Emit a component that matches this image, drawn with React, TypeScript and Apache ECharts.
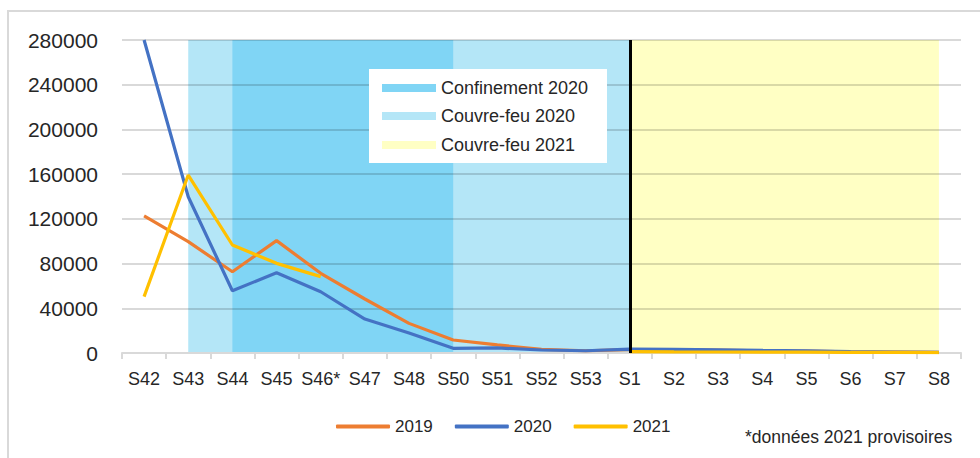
import { useEffect, useRef } from 'react';
import * as echarts from 'echarts';

const categories = ['S42', 'S43', 'S44', 'S45', 'S46*', 'S47', 'S48', 'S50', 'S51', 'S52', 'S53', 'S1', 'S2', 'S3', 'S4', 'S5', 'S6', 'S7', 'S8'];
const values2019 = [122600, 99600, 72700, 100500, 71300, 48300, 26500, 11600, 7200, 3300, 2000, 3000, 3000, 2500, 2000, 1800, 1000, 800, 500];
const values2020 = [280000, 139800, 55700, 71800, 54800, 30400, 17900, 4200, 4500, 2700, 2000, 3500, 3300, 2800, 2300, 2000, 1200, 900, 600];
const values2021: (number | null)[] = [50400, 159200, 96600, 80200, 68300, null, null, null, null, null, null, 1200, 1000, 900, 800, 700, 600, 500, 400];
const yTicks = { min: 0, max: 280000, interval: 40000 };

const bandCouvreFeu2020 = ['S43', 'S1'];
const bandConfinement2020 = ['S44', 'S50'];
const bandCouvreFeu2021 = ['S1', 'S8'];
const markerWeek = 'S1';

const bandLegend = ['Confinement 2020', 'Couvre-feu 2020', 'Couvre-feu 2021'];
const note = '*données 2021 provisoires';

const C_LIGHT = '#B4E6F7';
const C_DARK = '#80D5F5';
const C_YELLOW = '#FFFFC4';
const REG = '"Liberation Sans", Arial, sans-serif';

export default function App() {
  const ref = useRef<HTMLDivElement>(null);
  useEffect(() => {
    if (!ref.current) return;
    const chart = echarts.init(ref.current, undefined, { renderer: 'svg' });
    const swatchColors = [C_DARK, C_LIGHT, C_YELLOW];
    const LX = 369;
    const LY = 69;
    const legendEls: any[] = [
      { type: 'rect', z: 20, shape: { x: LX, y: LY, width: 238, height: 94 }, style: { fill: '#fff' } },
    ];
    bandLegend.forEach((name, i) => {
      const cy = LY + [19, 47, 76][i];
      legendEls.push({ type: 'rect', z: 21, shape: { x: LX + 13, y: cy - 4, width: 54, height: 8 }, style: { fill: swatchColors[i] } });
      legendEls.push({
        type: 'text',
        z: 21,
        x: LX + 72,
        y: cy,
        style: { text: name, verticalAlign: 'middle', fontFamily: REG, fontSize: 18, fill: '#262626' },
      });
    });
    chart.setOption({
      animation: false,
      backgroundColor: '#fff',
      grid: { left: 122, right: 19, top: 40, bottom: 105, containLabel: false },
      legend: {
        data: ['2019', '2020', '2021'],
        left: 336,
        top: 418,
        padding: 0,
        icon: 'roundRect',
        itemWidth: 54,
        itemHeight: 4,
        itemGap: 22,
        textStyle: { fontFamily: REG, fontSize: 17, color: '#262626' },
      },
      xAxis: {
        type: 'category',
        data: categories,
        boundaryGap: true,
        z: 2,
        axisLine: { show: true, lineStyle: { color: '#D9D9D9', width: 2 } },
        axisTick: { show: true, length: 6, lineStyle: { color: '#D9D9D9', width: 2 } },
        axisLabel: { fontFamily: REG, fontSize: 18, color: '#262626', margin: 17, interval: 0 },
        splitLine: { show: false },
      },
      yAxis: {
        type: 'value',
        min: yTicks.min,
        max: yTicks.max,
        interval: yTicks.interval,
        z: 2,
        axisLine: { show: false },
        axisTick: { show: false },
        axisLabel: { fontFamily: REG, fontSize: 21, color: '#262626', margin: 24, formatter: (v: number) => String(v) },
        splitLine: { show: true, lineStyle: { color: 'rgba(0,0,0,0.15)', width: 2 } },
      },
      series: [
        {
          name: '2019',
          type: 'line',
          data: values2019,
          z: 3,
          showSymbol: false,
          symbol: 'none',
          lineStyle: { color: '#ED7D31', width: 3.2 },
          itemStyle: { color: '#ED7D31' },
          markArea: {
            silent: true,
            data: [
              [{ xAxis: bandCouvreFeu2020[0], itemStyle: { color: C_LIGHT } }, { xAxis: bandCouvreFeu2020[1] }],
              [{ xAxis: bandConfinement2020[0], itemStyle: { color: C_DARK } }, { xAxis: bandConfinement2020[1] }],
              [{ xAxis: bandCouvreFeu2021[0], itemStyle: { color: C_YELLOW } }, { xAxis: bandCouvreFeu2021[1] }],
            ],
          },
          markLine: {
            silent: true,
            symbol: ['none', 'none'],
            label: { show: false },
            lineStyle: { color: '#000', width: 3, type: 'solid' },
            data: [{ xAxis: markerWeek }],
          },
        },
        {
          name: '2020',
          type: 'line',
          data: values2020,
          z: 3,
          showSymbol: false,
          symbol: 'none',
          lineStyle: { color: '#4472C4', width: 3.2 },
          itemStyle: { color: '#4472C4' },
        },
        {
          name: '2021',
          type: 'line',
          data: values2021,
          z: 3,
          showSymbol: false,
          symbol: 'none',
          connectNulls: false,
          lineStyle: { color: '#FFC000', width: 3.2 },
          itemStyle: { color: '#FFC000' },
        },
      ],
      graphic: [
        { type: 'rect', z: 20, shape: { x: 8, y: 11, width: 1000, height: 500 }, style: { fill: 'none', stroke: '#D9D9D9', lineWidth: 2 } },
        ...legendEls,
        {
          type: 'text',
          z: 20,
          x: 745,
          y: 437,
          style: { text: note, verticalAlign: 'middle', fontFamily: REG, fontSize: 17.5, fill: '#262626' },
        },
      ],
    });
    return () => chart.dispose();
  }, []);
  return <div ref={ref} style={{ position: 'fixed', left: 0, top: 0, width: 980, height: 458 }} />;
}
